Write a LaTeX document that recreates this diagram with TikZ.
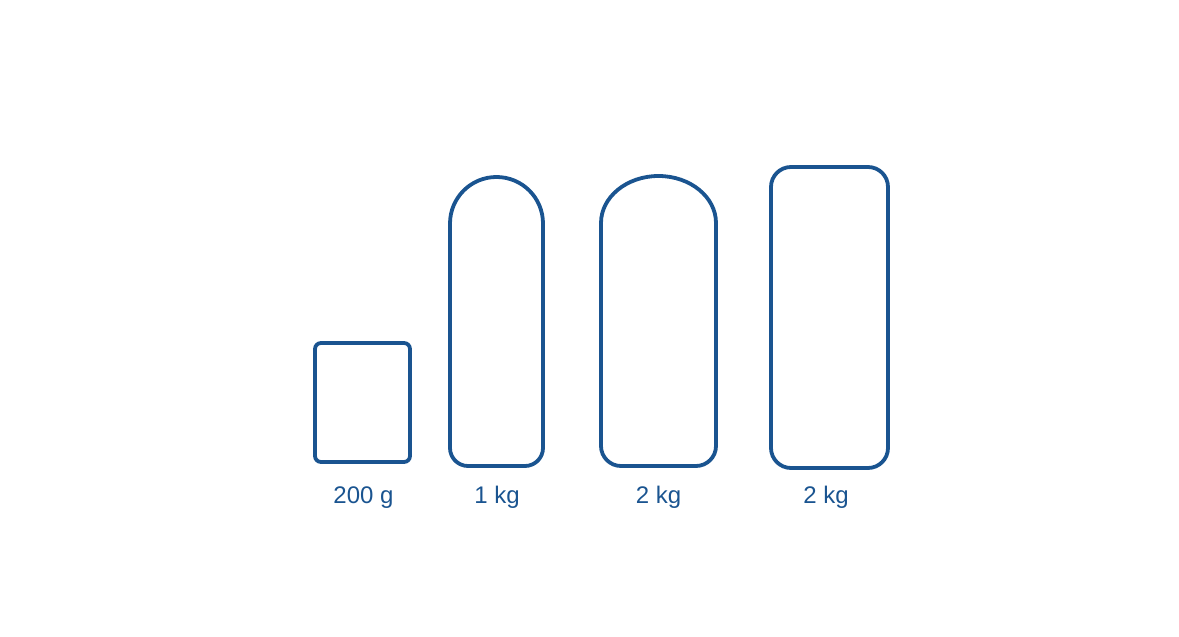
\documentclass[tikz,border=0pt]{standalone}
\usepackage{fontspec}
\setmainfont{Liberation Sans}
\definecolor{pack}{RGB}{26,84,144}
\begin{document}
\begin{tikzpicture}[x=1pt,y=1pt,
  outline/.style={draw=pack,line width=3.8pt,line join=round},
  lbl/.style={text=pack,font=\fontsize{24}{28}\selectfont,anchor=base,inner sep=0pt}]
\useasboundingbox (0,0) rectangle (1179,637);
% 200 g box
\draw[outline,rounded corners=6] (315,175) rectangle (410,294);
% 1 kg pouch
\draw[outline] (450,413.5) arc[start angle=180,end angle=0,radius=46.5]
  -- (543,189) arc[start angle=0,end angle=-90,radius=18]
  -- (468,171) arc[start angle=270,end angle=180,radius=18] -- cycle;
% 2 kg pouch (oval top)
\draw[outline] (601,414) arc[start angle=180,end angle=0,x radius=57.5,y radius=47]
  -- (716,191) arc[start angle=0,end angle=-90,radius=20]
  -- (621,171) arc[start angle=270,end angle=180,radius=20] -- cycle;
% 2 kg box
\draw[outline,rounded corners=20] (771,169) rectangle (888,470);
% labels
\node[lbl] (l1) at (363.5,133) {200 g};
\node[lbl] (l2) at (497,133) {1 kg};
\node[lbl] (l3) at (658.5,133) {2 kg};
\node[lbl] (l4) at (826,133) {2 kg};
\end{tikzpicture}
\end{document}
